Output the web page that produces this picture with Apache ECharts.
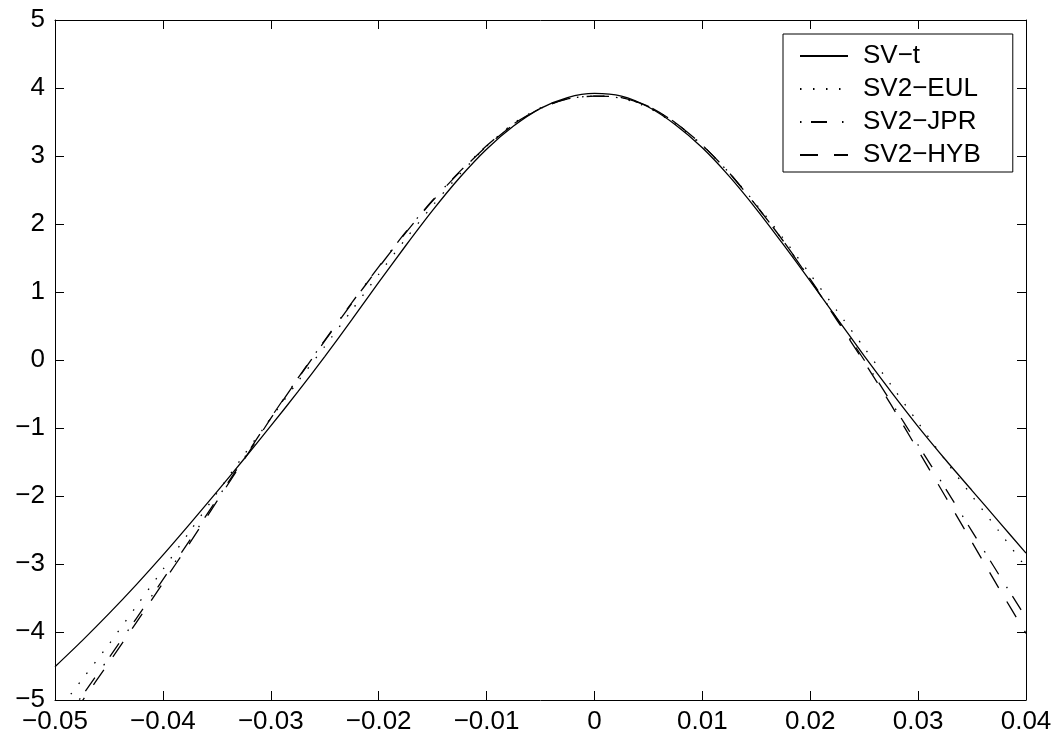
<!DOCTYPE html>
<html>
<head>
<meta charset="utf-8">
<script src="https://cdn.jsdelivr.net/npm/echarts@6/dist/echarts.min.js"></script>
<style>
html,body{margin:0;padding:0;background:#fff;}
#chart{width:1061px;height:746px;}
</style>
</head>
<body>
<div id="chart"></div>
<script>
// x grid (log-return values)
var xValues = [-0.05, -0.0475, -0.045, -0.0425, -0.04, -0.0375, -0.035, -0.0325, -0.03, -0.0275,
  -0.025, -0.0225, -0.02, -0.0175, -0.015, -0.0125, -0.01, -0.0075, -0.005, -0.0025,
  0, 0.0025, 0.005, 0.0075, 0.01, 0.0125, 0.015, 0.0175, 0.02, 0.0225,
  0.025, 0.0275, 0.03, 0.0325, 0.035, 0.0375, 0.04];

var svT = [-4.51, -4.13, -3.73, -3.31, -2.87, -2.41, -1.94, -1.46, -0.97, -0.47,
  0.05, 0.59, 1.14, 1.68, 2.20, 2.68, 3.10, 3.44, 3.70, 3.86,
  3.92, 3.88, 3.72, 3.46, 3.12, 2.70, 2.22, 1.70, 1.16, 0.61,
  0.06, -0.47, -0.98, -1.46, -1.92, -2.38, -2.84];

var sv2Eul = [-5.22, -4.70, -4.18, -3.63, -3.08, -2.52, -1.96, -1.40, -0.86, -0.32,
  0.20, 0.73, 1.26, 1.78, 2.27, 2.73, 3.14, 3.48, 3.71, 3.84,
  3.88, 3.85, 3.71, 3.47, 3.15, 2.75, 2.29, 1.79, 1.26, 0.72,
  0.18, -0.37, -0.92, -1.47, -2.00, -2.52, -3.05];

var sv2Jpr = [-5.50, -4.94, -4.38, -3.81, -3.23, -2.65, -2.05, -1.45, -0.85, -0.27,
  0.29, 0.84, 1.37, 1.88, 2.35, 2.77, 3.15, 3.47, 3.70, 3.84,
  3.88, 3.86, 3.73, 3.49, 3.16, 2.75, 2.27, 1.75, 1.19, 0.60,
  0.00, -0.62, -1.25, -1.88, -2.52, -3.16, -3.79];

var sv2Hyb = [-5.60, -5.02, -4.45, -3.87, -3.28, -2.69, -2.08, -1.47, -0.86, -0.28,
  0.28, 0.83, 1.36, 1.87, 2.34, 2.76, 3.14, 3.46, 3.70, 3.84,
  3.88, 3.86, 3.73, 3.49, 3.16, 2.75, 2.27, 1.75, 1.18, 0.58,
  -0.03, -0.66, -1.33, -2.00, -2.68, -3.36, -4.02];

var seriesNames = ['SV\u2212t', 'SV2\u2212EUL', 'SV2\u2212JPR', 'SV2\u2212HYB'];
var xTickLabels = ['\u22120.05', '\u22120.04', '\u22120.03', '\u22120.02', '\u22120.01', '0', '0.01', '0.02', '0.03', '0.04'];
var yTickLabels = ['\u22125', '\u22124', '\u22123', '\u22122', '\u22121', '0', '1', '2', '3', '4', '5'];

function pairs(ys) {
  return xValues.map(function (x, i) { return [x, ys[i]]; });
}

var FONT = "'Liberation Sans', Arial, Helvetica, sans-serif";
var chart = echarts.init(document.getElementById('chart'), null, {renderer: 'canvas'});

function axisCommon(extra) {
  var base = {
    type: 'value',
    axisLine: {show: true, onZero: false, lineStyle: {color: '#000', width: 1}},
    axisTick: {show: true, inside: true, length: 9, lineStyle: {color: '#000', width: 1}},
    splitLine: {show: false}
  };
  for (var k in extra) base[k] = extra[k];
  return base;
}

var option = {
  backgroundColor: '#fff',
  animation: false,
  color: ['#000', '#000', '#000', '#000'],
  grid: {left: 55, top: 20, right: 35, bottom: 46, containLabel: false},
  xAxis: [
    axisCommon({
      position: 'bottom', min: -0.05, max: 0.04, interval: 0.01,
      axisLabel: {
        show: true, color: '#000', fontSize: 26, fontFamily: FONT, margin: 9,
        formatter: function (v, i) { return xTickLabels[i]; }
      }
    }),
    axisCommon({
      position: 'top', min: -0.05, max: 0.04, interval: 0.01,
      axisLabel: {show: false}
    })
  ],
  yAxis: [
    axisCommon({
      position: 'left', min: -5, max: 5, interval: 1,
      axisLabel: {
        show: true, color: '#000', fontSize: 26, fontFamily: FONT, margin: 10,
        formatter: function (v, i) { return yTickLabels[i]; }
      }
    }),
    axisCommon({
      position: 'right', min: -5, max: 5, interval: 1,
      axisLabel: {show: false}
    })
  ],
  legend: {
    show: true,
    orient: 'vertical',
    left: 783, top: 34,
    data: seriesNames,
    backgroundColor: '#fff',
    borderColor: '#000', borderWidth: 1,
    padding: [9, 32, 4, 16],
    itemWidth: 48, itemHeight: 14, itemGap: 7,
    itemStyle: {opacity: 0},
    textStyle: {color: '#000', fontSize: 26, fontFamily: FONT, lineHeight: 26, padding: [0, 0, 0, 10]}
  },
  series: [
    {
      name: seriesNames[0], type: 'line', data: pairs(svT), symbol: 'none', smooth: 0.25,
      lineStyle: {color: '#000', width: 1.3, type: 'solid'}, clip: true, z: 5
    },
    {
      name: seriesNames[1], type: 'line', data: pairs(sv2Eul), symbol: 'none', smooth: 0.25,
      lineStyle: {color: '#000', width: 1.3, type: [1.5, 11.5]}, clip: true
    },
    {
      name: seriesNames[2], type: 'line', data: pairs(sv2Jpr), symbol: 'none', smooth: 0.25,
      lineStyle: {color: '#000', width: 1.3, type: [1.5, 9.5, 16, 15]}, clip: true
    },
    {
      name: seriesNames[3], type: 'line', data: pairs(sv2Hyb), symbol: 'none', smooth: 0.25,
      lineStyle: {color: '#000', width: 1.3, type: [18, 16]}, clip: true
    }
  ]
};
chart.setOption(option);
</script>
</body>
</html>
